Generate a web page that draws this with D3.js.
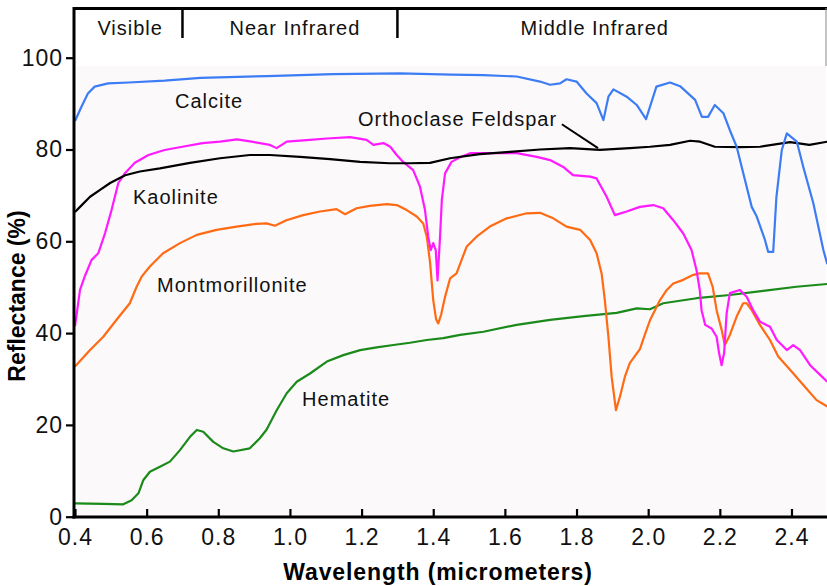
<!DOCTYPE html>
<html>
<head>
<meta charset="utf-8">
<script src="https://cdn.jsdelivr.net/npm/d3@7"></script>
<style>
  html, body { margin: 0; padding: 0; background: #ffffff; }
  svg { display: block; font-family: "Liberation Sans", Arial, Helvetica, sans-serif; }
</style>
</head>
<body>
<svg id="chart" width="827" height="586"></svg>
<script>
// ---- data (wavelength in micrometers, reflectance in %) ----
const xTicks = [0.4, 0.6, 0.8, 1.0, 1.2, 1.4, 1.6, 1.8, 2.0, 2.2, 2.4];
const yTicks = [0, 20, 40, 60, 80, 100];
const regionNames = ["Visible", "Near Infrared", "Middle Infrared"];
const regionCenters = [0.554, 1.014, 1.851];
const regionBounds = [0.7, 1.3];

const calcite = [[0.4,86.2],[0.418,89.3],[0.436,92.2],[0.455,93.7],[0.492,94.4],[0.55,94.6],[0.65,95.0],[0.75,95.6],[0.936,96.0],[1.12,96.4],[1.307,96.6],[1.45,96.3],[1.54,96.2],[1.633,95.9],[1.698,94.8],[1.726,94.1],[1.754,94.4],[1.772,95.3],[1.8,94.8],[1.828,92.2],[1.856,90.1],[1.875,86.4],[1.889,91.5],[1.903,93.1],[1.94,91.5],[1.968,89.7],[1.994,86.6],[2.023,93.7],[2.061,94.6],[2.089,93.8],[2.131,90.8],[2.15,87.1],[2.167,87.1],[2.186,89.7],[2.21,87.9],[2.228,84.2],[2.247,80.6],[2.27,73.4],[2.289,67.5],[2.303,65.4],[2.326,60.3],[2.335,57.7],[2.349,57.7],[2.358,69.7],[2.373,79.9],[2.387,83.5],[2.415,81.7],[2.433,76.2],[2.461,68.3],[2.489,58.1],[2.5,55.0]];

const orthoclase = [[0.4,66.4],[0.414,67.5],[0.442,69.7],[0.47,71.2],[0.498,72.7],[0.54,74.4],[0.581,75.2],[0.637,75.9],[0.721,77.1],[0.805,78.1],[0.888,78.8],[0.944,78.8],[1.028,78.4],[1.112,77.9],[1.196,77.3],[1.279,77.0],[1.335,77.0],[1.391,77.1],[1.447,78.1],[1.53,79.0],[1.614,79.5],[1.698,80.0],[1.782,80.3],[1.865,79.9],[1.949,80.3],[2.005,80.6],[2.061,81.0],[2.117,81.9],[2.145,81.7],[2.186,80.6],[2.256,80.5],[2.312,80.6],[2.396,81.6],[2.45,81.0],[2.5,81.7]];

const kaolinite = [[0.4,41.5],[0.414,49.4],[0.428,52.5],[0.446,55.9],[0.465,57.4],[0.484,61.8],[0.502,66.8],[0.521,72.7],[0.54,74.9],[0.567,77.1],[0.605,78.8],[0.65,79.9],[0.7,80.6],[0.756,81.4],[0.805,81.7],[0.852,82.2],[0.893,81.7],[0.944,81.0],[0.963,80.3],[0.991,81.7],[1.056,82.1],[1.103,82.4],[1.168,82.7],[1.214,82.1],[1.233,81.0],[1.261,81.4],[1.28,80.6],[1.298,78.8],[1.316,77.3],[1.344,75.5],[1.363,71.9],[1.377,66.8],[1.386,61.0],[1.393,58.1],[1.4,59.6],[1.407,58.1],[1.412,51.5],[1.419,61.0],[1.424,69.0],[1.433,74.8],[1.451,77.3],[1.475,78.3],[1.503,79.2],[1.633,79.2],[1.689,78.4],[1.726,77.7],[1.763,76.2],[1.79,74.4],[1.838,74.1],[1.856,73.7],[1.884,69.7],[1.907,65.7],[1.94,66.5],[1.977,67.5],[2.014,67.9],[2.042,67.2],[2.07,64.6],[2.098,61.7],[2.121,58.1],[2.135,53.7],[2.144,49.4],[2.149,45.0],[2.159,41.8],[2.177,41.0],[2.191,39.2],[2.198,35.6],[2.205,33.0],[2.212,35.7],[2.219,44.3],[2.228,48.7],[2.256,49.4],[2.275,47.9],[2.293,45.0],[2.312,42.5],[2.34,41.4],[2.359,38.5],[2.387,36.3],[2.405,37.4],[2.424,36.3],[2.452,33.0],[2.48,30.9],[2.5,29.4]];

const montmorillonite = [[0.4,32.7],[0.442,36.3],[0.479,39.2],[0.516,42.9],[0.553,46.5],[0.572,50.1],[0.586,52.3],[0.609,54.5],[0.646,57.4],[0.693,59.6],[0.74,61.4],[0.795,62.5],[0.851,63.2],[0.907,63.8],[0.935,63.9],[0.958,63.4],[0.99,64.6],[1.037,65.7],[1.084,66.5],[1.13,67.0],[1.154,65.9],[1.186,67.2],[1.223,67.7],[1.27,68.1],[1.298,67.9],[1.326,66.8],[1.354,65.4],[1.372,63.9],[1.382,61.0],[1.391,55.5],[1.4,47.2],[1.408,43.0],[1.414,42.1],[1.422,44.0],[1.433,47.9],[1.447,51.9],[1.465,53.0],[1.493,58.8],[1.521,61.0],[1.558,63.2],[1.605,65.0],[1.661,66.1],[1.698,66.2],[1.735,65.0],[1.772,63.2],[1.81,62.5],[1.838,60.3],[1.856,57.4],[1.87,53.0],[1.879,47.2],[1.889,39.2],[1.898,30.5],[1.91,23.2],[1.921,26.1],[1.935,30.5],[1.949,33.5],[1.977,36.5],[1.99,39.5],[2.005,42.8],[2.033,47.2],[2.052,49.4],[2.07,50.8],[2.098,51.6],[2.126,52.7],[2.144,53.0],[2.167,53.0],[2.18,50.1],[2.191,45.0],[2.205,40.7],[2.214,37.4],[2.228,39.6],[2.247,43.6],[2.265,46.5],[2.275,46.5],[2.289,45.0],[2.312,41.8],[2.34,38.5],[2.363,34.9],[2.396,32.0],[2.433,28.7],[2.47,25.4],[2.5,24.0]];

const hematite = [[0.4,2.9],[0.479,2.8],[0.535,2.7],[0.558,3.6],[0.577,5.1],[0.591,8.0],[0.609,9.8],[0.637,10.9],[0.665,12.0],[0.693,14.5],[0.721,17.4],[0.74,18.9],[0.758,18.5],[0.786,16.3],[0.814,14.9],[0.842,14.2],[0.888,14.9],[0.916,17.1],[0.935,19.0],[0.963,23.2],[0.991,26.9],[1.019,29.4],[1.056,31.2],[1.103,33.8],[1.149,35.2],[1.196,36.3],[1.242,36.9],[1.289,37.4],[1.335,37.9],[1.382,38.5],[1.428,38.9],[1.475,39.6],[1.54,40.3],[1.633,41.8],[1.726,42.9],[1.819,43.7],[1.912,44.4],[1.968,45.4],[2.005,45.2],[2.042,46.5],[2.135,47.6],[2.228,48.3],[2.321,49.2],[2.414,50.1],[2.5,50.7]];

const seriesNames = ["Hematite", "Montmorillonite", "Kaolinite", "Orthoclase Feldspar", "Calcite"];
const seriesData = [hematite, montmorillonite, kaolinite, orthoclase, calcite];
const seriesColors = ["#1a8a1a", "#ff6a13", "#ff1aff", "#000000", "#3c7cf4"];
// label anchor points in data units [wavelength, reflectance]
const labelAnchors = [[1.034, 24.1], [0.629, 49.0], [0.562, 68.1], [1.19, 85.1], [0.679, 89.0]];
const leader = [[1.759, 85.5], [1.86, 80.3]];

// ---- drawing ----
const svg = d3.select("#chart");
const x = d3.scaleLinear().domain([0.4, 2.5]).range([75, 827.3]);
const y = d3.scaleLinear().domain([0, 100]).range([516.7, 57.7]);
const FONT = '"Liberation Sans", Arial, Helvetica, sans-serif';

// plot background tint
svg.append("rect")
  .attr("x", x(0.4) + 2).attr("y", y(98.2))
  .attr("width", 826 - x(0.4) - 2).attr("height", y(0) - y(98.2))
  .attr("fill", "#fcf9fb");

// top band separators and labels
svg.selectAll("line.sep").data(regionBounds).join("line")
  .attr("class", "sep")
  .attr("x1", d => x(d)).attr("x2", d => x(d))
  .attr("y1", 8).attr("y2", 38)
  .attr("stroke", "#000").attr("stroke-width", 2.5);

svg.selectAll("text.region").data(regionNames).join("text")
  .attr("class", "region")
  .attr("x", (d, i) => x(regionCenters[i]))
  .attr("y", 35)
  .attr("text-anchor", "middle")
  .attr("font-size", 20).attr("letter-spacing", "1px")
  .attr("fill", "#111")
  .text(d => d);

// curves
const line = d3.line().x(d => x(d[0])).y(d => y(d[1]));
svg.selectAll("path.curve").data(seriesData).join("path")
  .attr("class", "curve")
  .attr("d", line)
  .attr("fill", "none")
  .attr("stroke", (d, i) => seriesColors[i])
  .attr("stroke-width", 2.2)
  .attr("stroke-linejoin", "round");

// curve labels
svg.selectAll("text.lbl").data(seriesNames).join("text")
  .attr("class", "lbl")
  .attr("x", (d, i) => x(labelAnchors[i][0]))
  .attr("y", (d, i) => y(labelAnchors[i][1]))
  .attr("font-size", 20).attr("letter-spacing", "1px")
  .attr("fill", "#111")
  .text(d => d);

svg.append("line")
  .attr("x1", x(leader[0][0])).attr("y1", y(leader[0][1]))
  .attr("x2", x(leader[1][0])).attr("y2", y(leader[1][1]))
  .attr("stroke", "#000").attr("stroke-width", 2);

// axes
const yAxis = d3.axisLeft(y).tickValues(yTicks).tickSize(8).tickPadding(3).tickFormat(d3.format("d"));
const gy = svg.append("g").attr("transform", "translate(74,0)").call(yAxis);
const xAxis = d3.axisBottom(x).tickValues(xTicks).tickSize(-8).tickPadding(12).tickFormat(d3.format(".1f"));
const gx = svg.append("g").attr("transform", "translate(0,517)").call(xAxis);
[gx, gy].forEach(g => {
  g.select(".domain").remove();
  g.selectAll(".tick line").attr("stroke", "#000").attr("stroke-width", 2.2);
  g.selectAll(".tick text").attr("font-size", 23).attr("letter-spacing", "1px")
    .attr("font-family", FONT).attr("fill", "#111");
});

// frame
const frame = svg.append("g").attr("stroke", "#000").attr("stroke-width", 3);
frame.append("line").attr("x1", 74).attr("x2", 827).attr("y1", 8.5).attr("y2", 8.5);
frame.append("line").attr("x1", 74).attr("x2", 74).attr("y1", 7).attr("y2", 518.5);
frame.append("line").attr("x1", 72.5).attr("x2", 827).attr("y1", 517).attr("y2", 517);
svg.append("line").attr("x1", 826).attr("x2", 826).attr("y1", 8).attr("y2", 66)
  .attr("stroke", "#888").attr("stroke-width", 1);

// axis titles
svg.append("text")
  .attr("x", 438).attr("y", 580)
  .attr("text-anchor", "middle")
  .attr("font-size", 23).attr("font-weight", "bold").attr("letter-spacing", "0.9px")
  .attr("fill", "#000")
  .text("Wavelength (micrometers)");

svg.append("text")
  .attr("transform", "translate(25,296) rotate(-90)")
  .attr("text-anchor", "middle")
  .attr("font-size", 23).attr("font-weight", "bold")
  .attr("fill", "#000")
  .text("Reflectance (%)");
</script>
</body>
</html>
